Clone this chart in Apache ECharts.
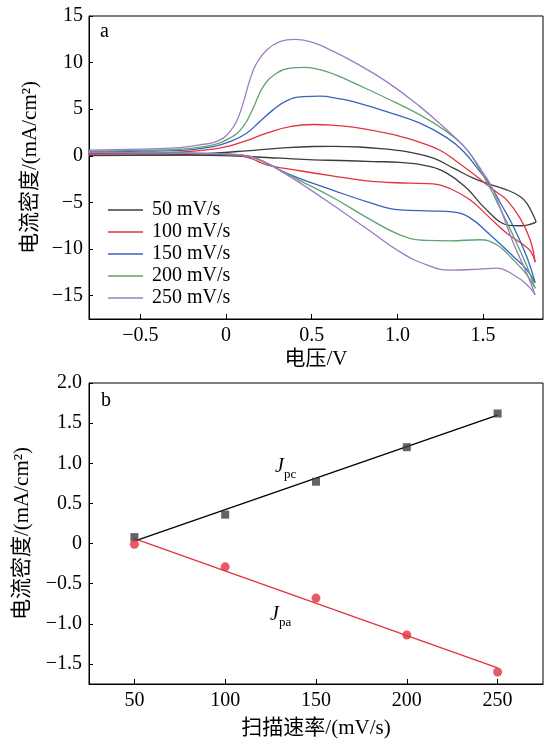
<!DOCTYPE html>
<html><head><meta charset="utf-8">
<script src="https://cdn.jsdelivr.net/npm/echarts@6/dist/echarts.min.js"></script>
<style>html,body{margin:0;padding:0;background:#fff}#c{width:544px;height:740px}</style>
</head><body><div id="c"></div>
<script>
// ---------- panel a: CV loops (potential V, current density mA/cm2) ----------
// each loop: forward (upper) branch and reverse (lower) branch, both listed by increasing potential
const scanNames = ['50 mV/s', '100 mV/s', '150 mV/s', '200 mV/s', '250 mV/s'];
const cv50Fwd = [
  [-0.8,0.03],[-0.5,0.07],[-0.27,0.12],[-0.075,0.29],[0.12,0.54],[0.314,0.82],[0.509,1.0],[0.62,1.02],
  [0.78,0.95],[0.937,0.71],[1.054,0.46],[1.21,-0.25],[1.327,-1.32],[1.443,-2.39],[1.531,-3.0],[1.638,-3.64],
  [1.716,-4.36],[1.755,-5.07],[1.794,-6.4],[1.81,-7.1]
];
const cv50Rev = [
  [-0.8,0.08],[-0.5,0.08],[-0.1,0.05],[0.12,-0.07],[0.314,-0.25],[0.509,-0.43],[0.665,-0.5],[0.859,-0.61],
  [1.015,-0.71],[1.171,-1.07],[1.288,-1.85],[1.405,-3.47],[1.482,-5.07],[1.56,-6.5],[1.6,-7.1],[1.65,-7.45],
  [1.72,-7.5],[1.81,-7.1]
];
const cv100Fwd = [
  [-0.8,0.25],[-0.5,0.3],[-0.27,0.4],[-0.075,0.71],[0.022,1.07],[0.12,1.64],[0.237,2.43],[0.373,3.14],
  [0.509,3.36],[0.645,3.25],[0.742,3.07],[0.937,2.43],[1.054,1.9],[1.132,1.45],[1.249,0.6],[1.346,-0.6],
  [1.463,-2.21],[1.522,-3.1],[1.58,-3.9],[1.638,-4.72],[1.716,-6.68],[1.775,-9.0],[1.804,-11.4]
];
const cv100Rev = [
  [-0.8,0.22],[-0.3,0.25],[0.041,0.1],[0.139,-0.25],[0.237,-0.96],[0.431,-1.6],[0.626,-2.17],[0.82,-2.68],
  [0.957,-2.86],[1.074,-2.93],[1.21,-3.0],[1.307,-3.5],[1.424,-4.72],[1.541,-6.68],[1.638,-8.29],[1.735,-9.54],
  [1.78,-10.3],[1.804,-11.4]
];
const cv150Fwd = [
  [-0.8,0.45],[-0.5,0.5],[-0.27,0.57],[-0.075,1.0],[0.022,1.53],[0.12,2.43],[0.197,3.68],[0.275,4.93],
  [0.353,5.9],[0.45,6.36],[0.548,6.4],[0.665,6.1],[0.742,5.82],[0.937,4.75],[1.132,3.5],[1.288,1.95],
  [1.385,0.5],[1.482,-1.7],[1.541,-3.1],[1.609,-5.3],[1.677,-7.58],[1.755,-10.8],[1.804,-13.6]
];
const cv150Rev = [
  [-0.8,0.35],[-0.3,0.3],[0.0,0.15],[0.139,-0.07],[0.237,-0.78],[0.334,-1.7],[0.431,-2.45],[0.626,-3.7],
  [0.82,-4.9],[1.015,-5.8],[1.21,-5.92],[1.32,-6.02],[1.424,-6.65],[1.541,-8.47],[1.677,-10.8],[1.755,-12.2],
  [1.804,-13.6]
];
const cv200Fwd = [
  [-0.8,0.5],[-0.5,0.58],[-0.27,0.71],[-0.075,1.18],[0.022,1.9],[0.1,3.14],[0.158,5.11],[0.217,7.43],
  [0.295,8.86],[0.373,9.4],[0.46,9.5],[0.548,9.25],[0.665,8.5],[0.742,7.85],[0.937,6.18],[1.132,4.39],
  [1.288,2.6],[1.385,1.1],[1.443,-0.3],[1.531,-3.1],[1.609,-6.0],[1.677,-8.6],[1.755,-11.8],[1.804,-14.2]
];
const cv200Rev = [
  [-0.8,0.38],[-0.3,0.3],[0.0,0.2],[0.139,-0.07],[0.237,-0.78],[0.334,-1.7],[0.431,-2.65],[0.626,-4.5],
  [0.82,-6.6],[1.015,-8.47],[1.171,-9.07],[1.307,-9.11],[1.482,-9.0],[1.58,-9.54],[1.677,-11.15],[1.755,-12.75],
  [1.804,-14.2]
];
const cv250Fwd = [
  [-0.8,0.62],[-0.5,0.72],[-0.27,0.89],[-0.153,1.18],[-0.075,1.43],[-0.017,1.9],[0.022,2.6],[0.061,3.68],
  [0.1,5.65],[0.139,8.15],[0.178,9.93],[0.237,11.36],[0.314,12.25],[0.402,12.5],[0.509,12.15],[0.626,11.2],
  [0.742,10.1],[0.937,7.96],[1.132,5.28],[1.288,2.79],[1.385,1.1],[1.445,-0.3],[1.502,-1.86],[1.541,-3.0],
  [1.58,-4.6],[1.609,-6.0],[1.677,-9.36],[1.755,-12.6],[1.804,-14.9]
];
const cv250Rev = [
  [-0.8,0.4],[-0.3,0.3],[0.0,0.2],[0.139,-0.07],[0.237,-0.78],[0.334,-1.8],[0.431,-2.9],[0.626,-5.3],
  [0.82,-7.8],[1.015,-10.3],[1.171,-11.7],[1.307,-12.25],[1.482,-12.15],[1.58,-12.04],[1.677,-12.75],
  [1.755,-13.8],[1.804,-14.9]
];
const cvFwd = [cv50Fwd, cv100Fwd, cv150Fwd, cv200Fwd, cv250Fwd];
const cvRev = [cv50Rev, cv100Rev, cv150Rev, cv200Rev, cv250Rev];
const cvColors = ['#3c3c3c', '#e5323f', '#3762c0', '#5ba46f', '#9e7cc0'];
const cvXTicks = [-0.5, 0, 0.5, 1.0, 1.5];
const cvYTicks = [-15, -10, -5, 0, 5, 10, 15];

// ---------- panel b: peak current vs scan rate ----------
const rates = [50, 100, 150, 200, 250];
const jpc = [0.08, 0.36, 0.77, 1.20, 1.62];
const jpa = [-0.01, -0.29, -0.68, -1.14, -1.60];
const fitRates = [50, 250];
const jpcFit = [0.03, 1.60];
const jpaFit = [0.06, -1.55];
const rateTicks = [50, 100, 150, 200, 250];
const jTicks = [-1.5, -1.0, -0.5, 0, 0.5, 1.0, 1.5, 2.0];

const SERIF = '"Liberation Serif","Times New Roman","Noto Sans CJK SC",serif';
const MINUS = '\u2212';
function fmt1(v) { if (Math.abs(v) < 1e-9) return '0'; return (v < 0 ? MINUS : '') + Math.abs(v).toFixed(1); }
function fmt0(v) { if (Math.abs(v) < 1e-9) return '0'; return (v < 0 ? MINUS : '') + Math.abs(v).toFixed(0); }

const labelStyle = { fontSize: 20, color: '#000', fontFamily: SERIF };
const nameStyle = { fontSize: 21, color: '#000', fontFamily: SERIF };
function axis(extra) {
  return Object.assign({
    type: 'value',
    axisLine: { onZero: false, lineStyle: { color: '#000', width: 1 } },
    splitLine: { show: false },
    nameLocation: 'middle',
    nameTextStyle: nameStyle
  }, extra);
}

const chart = echarts.init(document.getElementById('c'), null, { renderer: 'canvas' });

const series = [];
scanNames.forEach((nm, i) => {
  [cvFwd[i], cvRev[i]].forEach(branch => {
    series.push({
      name: nm, type: 'line', xAxisIndex: 0, yAxisIndex: 0,
      data: branch, smooth: 0.45, symbol: 'none', color: cvColors[i],
      lineStyle: { width: 1.3, color: cvColors[i] }, z: 2 + i
    });
  });
});
series.push({
  name: 'Jpc fit', type: 'line', xAxisIndex: 1, yAxisIndex: 1, symbol: 'none',
  data: fitRates.map((r, i) => [r, jpcFit[i]]), lineStyle: { color: '#000', width: 1.3 }, z: 3
});
series.push({
  name: 'Jpa fit', type: 'line', xAxisIndex: 1, yAxisIndex: 1, symbol: 'none',
  data: fitRates.map((r, i) => [r, jpaFit[i]]), lineStyle: { color: '#e5323f', width: 1.3 }, z: 3
});
series.push({
  name: 'Jpc', type: 'scatter', xAxisIndex: 1, yAxisIndex: 1, symbol: 'rect', symbolSize: 8,
  data: rates.map((r, i) => [r, jpc[i]]), itemStyle: { color: '#3d3d3d' }, z: 4
});
series.push({
  name: 'Jpa', type: 'scatter', xAxisIndex: 1, yAxisIndex: 1, symbol: 'circle', symbolSize: 9,
  data: rates.map((r, i) => [r, jpa[i]]), itemStyle: { color: '#e0323f' }, z: 4
});

const jRich = {
  j: { fontSize: 20, fontStyle: 'italic', fontFamily: SERIF, fill: '#000', verticalAlign: 'top' },
  s: { fontSize: 13, fontFamily: SERIF, fill: '#000', padding: [11, 0, 0, 0], verticalAlign: 'top' }
};

chart.setOption({
  animation: false,
  backgroundColor: '#fff',
  grid: [
    { left: 89, top: 16, right: 1, height: 303, show: true, borderColor: '#000', borderWidth: 1, containLabel: false },
    { left: 89, top: 383, right: 1, height: 302, show: true, borderColor: '#000', borderWidth: 1, containLabel: false }
  ],
  xAxis: [
    axis({ gridIndex: 0, min: -0.8, max: 1.85, name: '电压/V', nameGap: 30,
      axisTick: { inside: true, length: 5, customValues: cvXTicks, lineStyle: { color: '#000' } },
      axisLabel: Object.assign({ customValues: cvXTicks, formatter: fmt1, margin: 7 }, labelStyle) }),
    axis({ gridIndex: 1, min: 25, max: 275, name: '扫描速率/(mV/s)', nameGap: 34,
      axisTick: { inside: true, length: 5, customValues: rateTicks, lineStyle: { color: '#000' } },
      axisLabel: Object.assign({ customValues: rateTicks, formatter: v => String(v), margin: 7 }, labelStyle) })
  ],
  yAxis: [
    axis({ gridIndex: 0, min: -17.5, max: 15, name: '电流密度/(mA/cm²)', nameGap: 47,
      axisTick: { inside: true, length: 4, customValues: cvYTicks, lineStyle: { color: '#000' } },
      axisLabel: Object.assign({ customValues: cvYTicks, formatter: fmt0, margin: 6 }, labelStyle) }),
    axis({ gridIndex: 1, min: -1.75, max: 2.0, name: '电流密度/(mA/cm²)', nameGap: 56,
      axisTick: { inside: true, length: 4, customValues: jTicks, lineStyle: { color: '#000' } },
      axisLabel: Object.assign({ customValues: jTicks, formatter: fmt1, margin: 7 }, labelStyle) })
  ],
  legend: {
    data: scanNames, orient: 'vertical', left: 108, top: 199, padding: 0,
    icon: 'rect', itemWidth: 35, itemHeight: 1.5, itemGap: 0,
    textStyle: { fontSize: 20, color: '#000', fontFamily: SERIF, lineHeight: 22, padding: [0, 0, 0, 4] },
    selectedMode: false
  },
  graphic: [
    { type: 'text', left: 100, top: 22, style: { text: 'a', font: '20px ' + SERIF, fill: '#000' } },
    { type: 'text', left: 101, top: 391, style: { text: 'b', font: '20px ' + SERIF, fill: '#000' } },
    { type: 'text', left: 275, top: 457, style: { text: '{j|J}{s|pc}', fill: '#000', rich: jRich } },
    { type: 'text', left: 270, top: 605, style: { text: '{j|J}{s|pa}', fill: '#000', rich: jRich } }
  ],
  series: series
});
</script>
</body></html>
